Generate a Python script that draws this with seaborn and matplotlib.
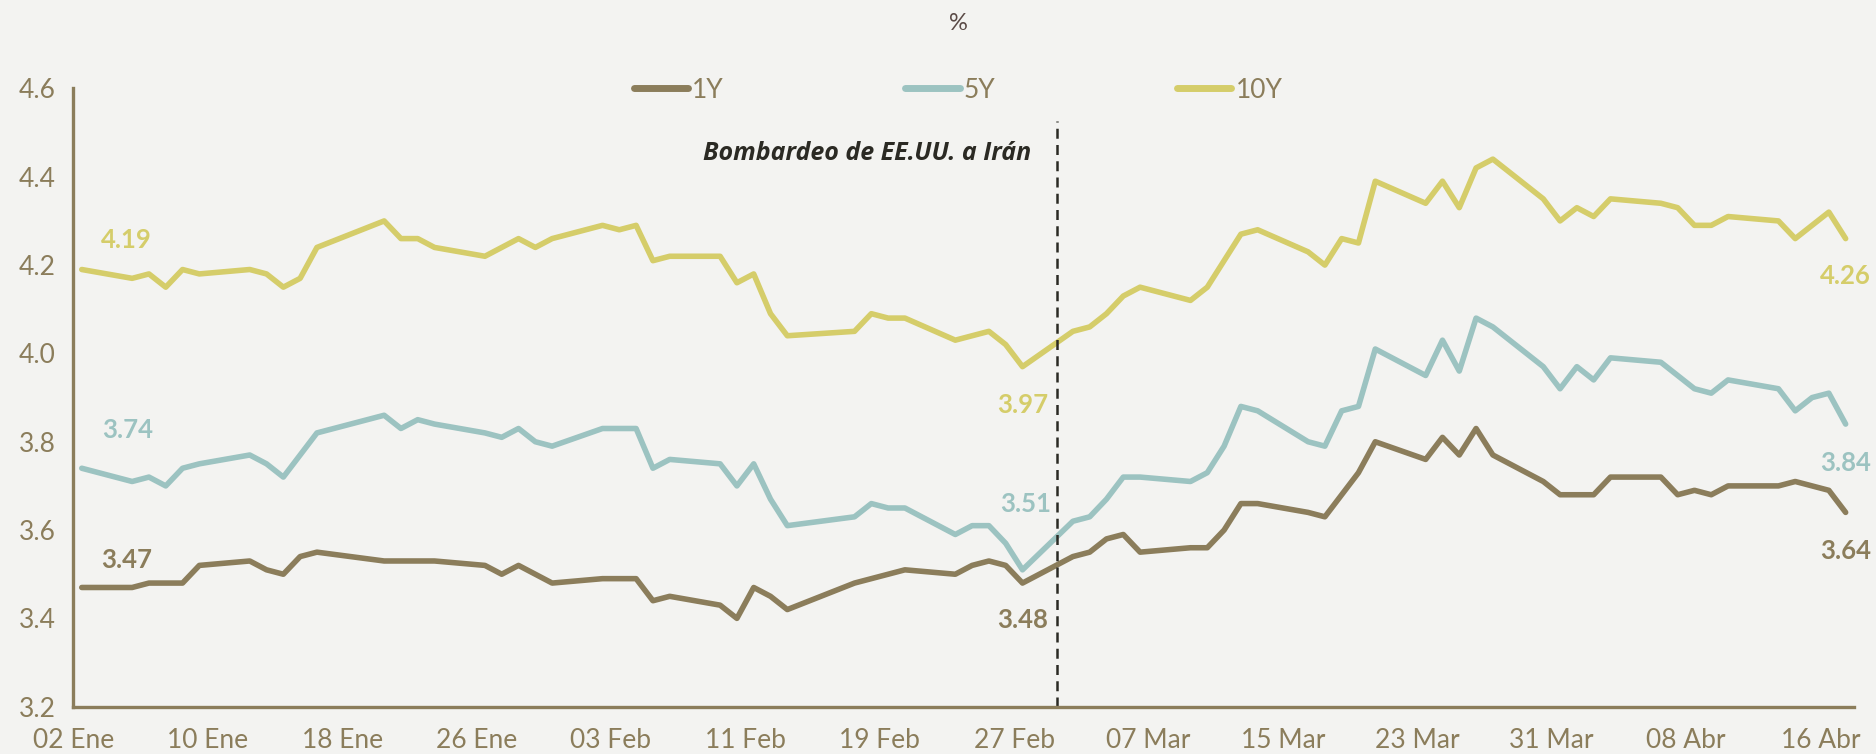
import matplotlib
matplotlib.use("Agg")
import matplotlib.pyplot as plt
import seaborn as sns
import pandas as pd

# ---------------- data ----------------
fechas = [
    "2026-01-02", "2026-01-05", "2026-01-06", "2026-01-07", "2026-01-08", "2026-01-09",
    "2026-01-12", "2026-01-13", "2026-01-14", "2026-01-15", "2026-01-16",
    "2026-01-20", "2026-01-21", "2026-01-22", "2026-01-23",
    "2026-01-26", "2026-01-27", "2026-01-28", "2026-01-29", "2026-01-30",
    "2026-02-02", "2026-02-03", "2026-02-04", "2026-02-05", "2026-02-06",
    "2026-02-09", "2026-02-10", "2026-02-11", "2026-02-12", "2026-02-13",
    "2026-02-17", "2026-02-18", "2026-02-19", "2026-02-20",
    "2026-02-23", "2026-02-24", "2026-02-25", "2026-02-26", "2026-02-27",
    "2026-03-02", "2026-03-03", "2026-03-04", "2026-03-05", "2026-03-06",
    "2026-03-09", "2026-03-10", "2026-03-11", "2026-03-12", "2026-03-13",
    "2026-03-16", "2026-03-17", "2026-03-18", "2026-03-19", "2026-03-20",
    "2026-03-23", "2026-03-24", "2026-03-25", "2026-03-26", "2026-03-27",
    "2026-03-30", "2026-03-31", "2026-04-01", "2026-04-02", "2026-04-03",
    "2026-04-06", "2026-04-07", "2026-04-08", "2026-04-09", "2026-04-10",
    "2026-04-13", "2026-04-14", "2026-04-15", "2026-04-16", "2026-04-17",
]

bono_1y = [
    3.47, 3.47, 3.48, 3.48, 3.48, 3.52,
    3.53, 3.51, 3.50, 3.54, 3.55,
    3.53, 3.53, 3.53, 3.53,
    3.52, 3.50, 3.52, 3.50, 3.48,
    3.49, 3.49, 3.49, 3.44, 3.45,
    3.43, 3.40, 3.47, 3.45, 3.42,
    3.48, 3.49, 3.50, 3.51,
    3.50, 3.52, 3.53, 3.52, 3.48,
    3.54, 3.55, 3.58, 3.59, 3.55,
    3.56, 3.56, 3.60, 3.66, 3.66,
    3.64, 3.63, 3.68, 3.73, 3.80,
    3.76, 3.81, 3.77, 3.83, 3.77,
    3.71, 3.68, 3.68, 3.68, 3.72,
    3.72, 3.68, 3.69, 3.68, 3.70,
    3.70, 3.71, 3.70, 3.69, 3.64,
]

bono_5y = [
    3.74, 3.71, 3.72, 3.70, 3.74, 3.75,
    3.77, 3.75, 3.72, 3.77, 3.82,
    3.86, 3.83, 3.85, 3.84,
    3.82, 3.81, 3.83, 3.80, 3.79,
    3.83, 3.83, 3.83, 3.74, 3.76,
    3.75, 3.70, 3.75, 3.67, 3.61,
    3.63, 3.66, 3.65, 3.65,
    3.59, 3.61, 3.61, 3.57, 3.51,
    3.62, 3.63, 3.67, 3.72, 3.72,
    3.71, 3.73, 3.79, 3.88, 3.87,
    3.80, 3.79, 3.87, 3.88, 4.01,
    3.95, 4.03, 3.96, 4.08, 4.06,
    3.97, 3.92, 3.97, 3.94, 3.99,
    3.98, 3.95, 3.92, 3.91, 3.94,
    3.92, 3.87, 3.90, 3.91, 3.84,
]

bono_10y = [
    4.19, 4.17, 4.18, 4.15, 4.19, 4.18,
    4.19, 4.18, 4.15, 4.17, 4.24,
    4.30, 4.26, 4.26, 4.24,
    4.22, 4.24, 4.26, 4.24, 4.26,
    4.29, 4.28, 4.29, 4.21, 4.22,
    4.22, 4.16, 4.18, 4.09, 4.04,
    4.05, 4.09, 4.08, 4.08,
    4.03, 4.04, 4.05, 4.02, 3.97,
    4.05, 4.06, 4.09, 4.13, 4.15,
    4.12, 4.15, 4.21, 4.27, 4.28,
    4.23, 4.20, 4.26, 4.25, 4.39,
    4.34, 4.39, 4.33, 4.42, 4.44,
    4.35, 4.30, 4.33, 4.31, 4.35,
    4.34, 4.33, 4.29, 4.29, 4.31,
    4.30, 4.26, 4.29, 4.32, 4.26,
]

plazos = ["1Y", "5Y", "10Y"]
tick_fechas = ["2026-01-02", "2026-01-10", "2026-01-18", "2026-01-26", "2026-02-03",
               "2026-02-11", "2026-02-19", "2026-02-27", "2026-03-07", "2026-03-15",
               "2026-03-23", "2026-03-31", "2026-04-08", "2026-04-16"]
tick_labels = ["02 Ene", "10 Ene", "18 Ene", "26 Ene", "03 Feb", "11 Feb", "19 Feb",
               "27 Feb", "07 Mar", "15 Mar", "23 Mar", "31 Mar", "08 Abr", "16 Abr"]
y_ticks = [3.2, 3.4, 3.6, 3.8, 4.0, 4.2, 4.4, 4.6]
fecha_etiqueta_media = "2026-02-27"
evento_fecha = "2026-03-01"
evento_texto = "Bombardeo de EE.UU. a Irán"
titulo = "%"

# ---------------- style ----------------
BG = "#f3f3f1"
C1, C5, C10 = "#8b7d5b", "#9cc3c1", "#d5cd6a"
colores = {"1Y": C1, "5Y": C5, "10Y": C10}
AXC = "#8b7d5b"

sns.set_style("white")
plt.rcParams["font.family"] = ["Lato", "DejaVu Sans"]

df = pd.DataFrame({
    "fecha": pd.to_datetime(fechas * 3),
    "valor": bono_1y + bono_5y + bono_10y,
    "plazo": ["1Y"] * len(fechas) + ["5Y"] * len(fechas) + ["10Y"] * len(fechas),
})
# points sit at mid-day on the date axis
df["x"] = df["fecha"] + pd.Timedelta(hours=12)

fig = plt.figure(figsize=(18.76, 7.54), dpi=100, facecolor=BG)
ax = fig.add_axes([0.0391, 0.0627, 0.9492, 0.8200])
ax.set_facecolor(BG)

sns.lineplot(data=df, x="x", y="valor", hue="plazo", hue_order=plazos,
             palette=colores, linewidth=4.0, ax=ax, legend=True)

handles, labels = ax.get_legend_handles_labels()
ax.get_legend().remove()
for h in handles:
    h.set_linewidth(5)
    h.set_solid_capstyle("round")
leg = fig.legend(handles, labels, loc="center", bbox_to_anchor=(958 / 1876, 1 - 90 / 754),
                 ncol=3, frameon=False, handlelength=2.05, handletextpad=0.15,
                 columnspacing=6.9, fontsize=19, borderpad=0)
for t in leg.get_texts():
    t.set_color(AXC)

# axes
ax.set_xlim(pd.Timestamp("2026-01-02"), pd.Timestamp("2026-04-18"))
ax.set_ylim(3.2, 4.6)
ax.set_yticks(y_ticks)
ax.set_yticklabels([f"{v:.1f}" for v in y_ticks])
ax.set_xticks(pd.to_datetime(tick_fechas))
ax.set_xticklabels(tick_labels)
ax.set_xlabel("")
ax.set_ylabel("")
for s in ["top", "right"]:
    ax.spines[s].set_visible(False)
for s in ["left", "bottom"]:
    ax.spines[s].set_color(AXC)
    ax.spines[s].set_linewidth(2.4)
ax.tick_params(axis="both", colors=AXC, labelcolor=AXC, width=2.2, labelsize=19)
ax.tick_params(axis="y", length=4.5, pad=8)
ax.tick_params(axis="x", length=6, pad=9)

# event line + text
ev = pd.Timestamp(evento_fecha) + pd.Timedelta(hours=14)
ax.axvline(ev, ymin=0, ymax=0.947, color="#2b2a24", linestyle=(0, (4, 2.5)), linewidth=1.8)
ax.annotate(evento_texto, xy=(ev, 0.8955), xycoords=("data", "axes fraction"),
            xytext=(-19, 0), textcoords="offset points", ha="right", va="center",
            fontsize=18, fontweight="bold", fontstyle="italic", color="#2b2a24",
            family=["Open Sans", "DejaVu Sans"])

# value labels
series = {"1Y": bono_1y, "5Y": bono_5y, "10Y": bono_10y}
offsets = {
    "1Y": [(32, 19.5), (0, -26.6), (0, -27.6)],
    "5Y": [(33, 27.5), (2, 47.4), (0, -27.8)],
    "10Y": [(32, 21), (0, -27.6), (0, -27)],
}
idx_mid = fechas.index(fecha_etiqueta_media)
xs = list(df["x"][: len(fechas)])
for p in plazos:
    vals = series[p]
    for (i, off) in zip([0, idx_mid, len(fechas) - 1], offsets[p]):
        ax.annotate(f"{vals[i]:.2f}", xy=(xs[i], vals[i]), xytext=off,
                    textcoords="offset points", ha="center", va="center",
                    fontsize=18.5, fontweight="bold", color=colores[p],
                    annotation_clip=False)

fig.text(958 / 1876, 1 - 23 / 754, titulo, ha="center", va="center",
         fontsize=17, color="#5a4a46")

fig.savefig("out.png", dpi=100, facecolor=BG)
